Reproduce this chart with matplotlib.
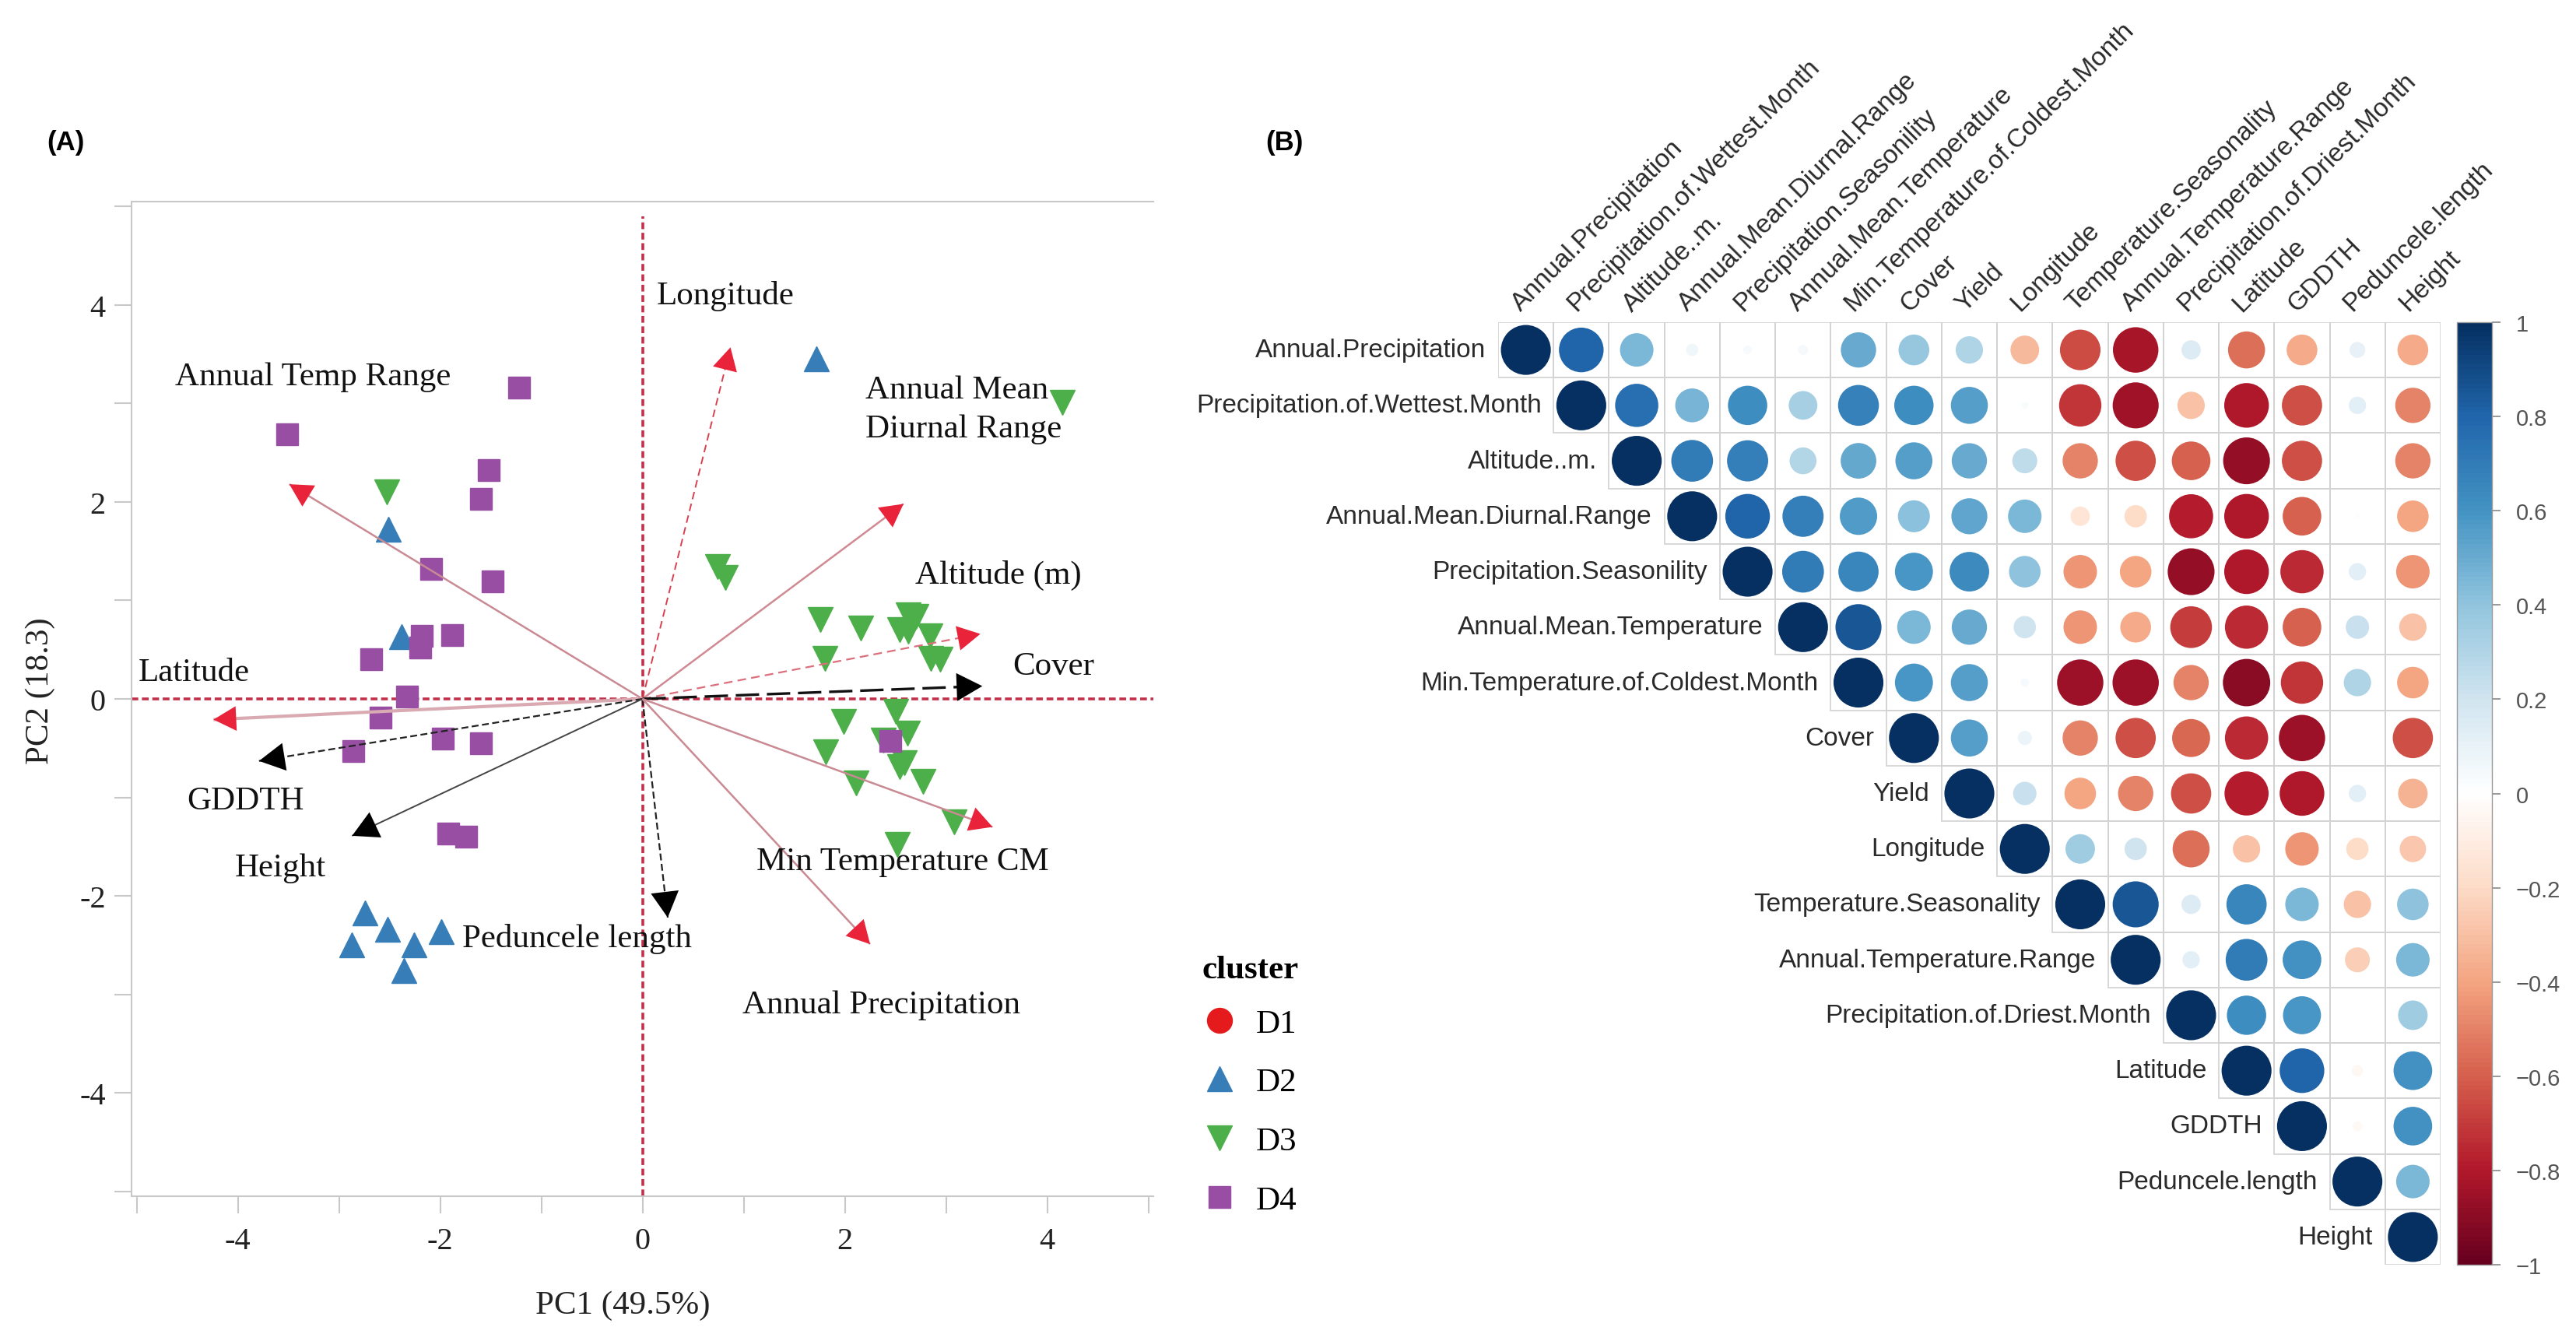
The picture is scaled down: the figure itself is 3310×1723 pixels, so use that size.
import numpy as np
import matplotlib.pyplot as plt
from matplotlib.patches import Circle, Rectangle
from matplotlib.lines import Line2D
from matplotlib.colors import LinearSegmentedColormap, Normalize
from matplotlib.cm import ScalarMappable

plt.rcParams['font.family'] = ['Liberation Serif', 'DejaVu Serif']
plt.rcParams['axes.unicode_minus'] = False

# ---------------- (A) PCA biplot data ----------------
d1_x, d1_y = [], []
d2_x = [1.72, -2.51, -2.38, -2.74, -2.52, -2.87, -2.26, -1.99, -2.36]
d2_y = [3.45, 1.72, 0.63, -2.17, -2.34, -2.50, -2.50, -2.36, -2.76]
d3_x = [4.15, -2.53, 0.74, 0.82, 1.76, 2.16, 2.63, 2.70, 2.54, 2.63, 2.84, 1.80, 2.85, 2.94,
        1.99, 2.50, 1.81, 2.62, 2.38, 2.59, 2.54, 2.11, 2.77, 3.08, 2.52]
d3_y = [3.01, 2.10, 1.34, 1.23, 0.81, 0.72, 0.85, 0.84, 0.70, 0.69, 0.64, 0.41, 0.41, 0.40,
        -0.23, -0.13, -0.54, -0.35, -0.42, -0.65, -0.69, -0.85, -0.84, -1.25, -1.48]
d4_x = [-3.51, -1.22, -1.52, -1.60, -2.09, -1.48, -1.88, -2.18, -2.20, -2.68, -2.33,
        -2.59, -1.97, -1.60, -2.86, -1.92, -1.74, 2.45]
d4_y = [2.69, 3.16, 2.32, 2.03, 1.32, 1.19, 0.65, 0.64, 0.52, 0.40, 0.02,
        -0.19, -0.40, -0.45, -0.53, -1.37, -1.40, -0.43]

# variable loadings (arrow tips)
var_names = ["Longitude", "Annual Temp Range", "Annual Mean\nDiurnal Range", "Altitude (m)",
             "Cover", "Latitude", "GDDTH", "Height", "Peduncele length",
             "Min Temperature CM", "Annual Precipitation"]
load_x = [0.87, -3.49, 2.58, 3.34, 3.36, -4.24, -3.79, -2.87, 0.25, 3.46, 2.25]
load_y = [3.57, 2.18, 1.98, 0.66, 0.13, -0.21, -0.63, -1.39, -2.22, -1.30, -2.49]
var_group = ["env", "env", "env", "env", "trait", "env", "trait", "trait", "trait", "env", "env"]

# ---------------- (B) correlation matrix (upper triangle) ----------------
corr_vars = ["Annual.Precipitation", "Precipitation.of.Wettest.Month", "Altitude..m.",
             "Annual.Mean.Diurnal.Range", "Precipitation.Seasonility", "Annual.Mean.Temperature",
             "Min.Temperature.of.Coldest.Month", "Cover", "Yield", "Longitude",
             "Temperature.Seasonality", "Annual.Temperature.Range", "Precipitation.of.Driest.Month",
             "Latitude", "GDDTH", "Peduncele.length", "Height"]
corr_rows = [
    [1, 0.80, 0.45, 0.06, 0.03, 0.04, 0.50, 0.38, 0.30, -0.33, -0.66, -0.83, 0.15, -0.55, -0.38, 0.10, -0.38],
    [1, 0.75, 0.46, 0.62, 0.33, 0.67, 0.62, 0.55, 0.02, -0.72, -0.85, -0.30, -0.80, -0.65, 0.12, -0.50],
    [1, 0.70, 0.68, 0.29, 0.51, 0.55, 0.50, 0.25, -0.50, -0.65, -0.60, -0.88, -0.65, 0.00, -0.50],
    [1, 0.80, 0.68, 0.56, 0.41, 0.52, 0.45, -0.15, -0.20, -0.78, -0.80, -0.60, 0.01, -0.40],
    [1, 0.70, 0.65, 0.58, 0.63, 0.40, -0.45, -0.40, -0.88, -0.80, -0.75, 0.12, -0.45],
    [1, 0.85, 0.45, 0.50, 0.20, -0.45, -0.38, -0.70, -0.75, -0.60, 0.22, -0.30],
    [1, 0.58, 0.55, 0.03, -0.86, -0.86, -0.50, -0.90, -0.72, 0.30, -0.40],
    [1, 0.55, 0.08, -0.50, -0.65, -0.58, -0.75, -0.86, 0.00, -0.65],
    [1, 0.22, -0.40, -0.50, -0.65, -0.78, -0.80, 0.12, -0.35],
    [1, 0.35, 0.20, -0.55, -0.30, -0.45, -0.20, -0.28],
    [1, 0.85, 0.15, 0.65, 0.45, -0.30, 0.40],
    [1, 0.12, 0.70, 0.60, -0.25, 0.45],
    [1, 0.62, 0.58, 0.00, 0.35],
    [1, 0.80, -0.05, 0.60],
    [1, -0.04, 0.60],
    [1, 0.45],
    [1],
]
cbar_ticks = [1, 0.8, 0.6, 0.4, 0.2, 0, -0.2, -0.4, -0.6, -0.8, -1]

W, H = 3310, 1724
fig = plt.figure(figsize=(W / 100, H / 100), dpi=100)


def box(l, t, r, b):
    return [l / W, 1 - b / H, (r - l) / W, (b - t) / H]


# ================= panel A =================
ax = fig.add_axes(box(169, 260, 1482, 1538))
ax.set_xlim(-5.05, 5.05)
ax.set_ylim(-5.05, 5.05)
ax.axhline(0, color='#c2304a', lw=2.6, ls=(0, (2.4, 1.3)), zorder=1)
ax.axvline(0, ymax=0.985, color='#c2304a', lw=2.6, ls=(0, (2.4, 1.3)), zorder=1)

ax.plot(d1_x, d1_y, 'o', color='#E41A1C', ms=23, ls='none', zorder=3)
ax.plot(d2_x, d2_y, '^', color='#377EB8', ms=23, ls='none', zorder=3)
ax.plot(d3_x, d3_y, 'v', color='#4DAF4A', ms=23, ls='none', zorder=3)
ax.plot(d4_x, d4_y, 's', color='#984EA3', ms=20, ls='none', zorder=3)

line_style = {
    "Longitude": dict(color='#d8404f', lw=1.4, ls=(0, (5, 3))),
    "Annual Temp Range": dict(color='#c98a93', lw=1.8, ls='-'),
    "Annual Mean\nDiurnal Range": dict(color='#cf8a94', lw=1.8, ls='-'),
    "Altitude (m)": dict(color='#dc6f7c', lw=1.6, ls=(0, (5, 3))),
    "Cover": dict(color='#111111', lw=2.4, ls=(0, (9, 3))),
    "Latitude": dict(color='#d9aab2', lw=3.0, ls='-'),
    "GDDTH": dict(color='#222222', lw=1.6, ls=(0, (4, 2))),
    "Height": dict(color='#444444', lw=1.4, ls='-'),
    "Peduncele length": dict(color='#222222', lw=1.6, ls=(0, (4, 2))),
    "Min Temperature CM": dict(color='#c98a93', lw=1.8, ls='-'),
    "Annual Precipitation": dict(color='#c98a93', lw=1.8, ls='-'),
}
label_pos = {
    "Longitude": (0.14, 4.10),
    "Annual Temp Range": (-4.62, 3.27),
    "Annual Mean\nDiurnal Range": (2.20, 2.94),
    "Altitude (m)": (2.70, 1.26),
    "Cover": (3.66, 0.33),
    "Latitude": (-4.98, 0.27),
    "GDDTH": (-4.50, -1.03),
    "Height": (-4.03, -1.71),
    "Peduncele length": (-1.78, -2.43),
    "Min Temperature CM": (1.13, -1.65),
    "Annual Precipitation": (0.99, -3.10),
}
for name, x, y, grp in zip(var_names, load_x, load_y, var_group):
    st = line_style[name]
    ax.plot([0, x], [0, y], color=st['color'], lw=st['lw'], ls=st['ls'], zorder=4,
            solid_capstyle='butt')
    head_col = '#E8233A' if grp == 'env' else '#000000'
    ms = 30 if grp == 'env' else 34
    ax.annotate('', xy=(x, y), xytext=(0, 0),
                arrowprops=dict(arrowstyle='-|>,head_length=0.7,head_width=0.38',
                                color=head_col, lw=0, shrinkA=0, shrinkB=0,
                                mutation_scale=ms), zorder=5)
    lx, ly = label_pos[name]
    ax.text(lx, ly, name, fontsize=31, ha='left', va='center', color='#111111',
            linespacing=1.4, zorder=6)

ticks = list(range(-5, 6))
ax.set_xticks(ticks)
ax.set_yticks(ticks)
ax.set_xticklabels([str(t) if t % 2 == 0 else '' for t in ticks])
ax.set_yticklabels([str(t) if t % 2 == 0 else '' for t in ticks])
ax.tick_params(axis='both', length=16, width=1.5, color='#c8c8c8', labelsize=29,
               labelcolor='#222222')
ax.tick_params(axis='x', pad=12)
ax.tick_params(axis='y', pad=8)
for side in ['left', 'top', 'bottom']:
    ax.spines[side].set_color('#c8c8c8')
    ax.spines[side].set_linewidth(1.5)
ax.spines['right'].set_visible(False)

fig.text(800 / W, 1 - 1678 / H, 'PC1 (49.5%)', fontsize=31, ha='center', va='center', color='#222222')
fig.text(52 / W, 1 - 888 / H, 'PC2 (18.3)', fontsize=31, ha='center', va='center',
         rotation=90, color='#222222')
fig.text(84 / W, 1 - 184 / H, '(A)', fontsize=25, fontweight='bold', ha='center', va='center',
         family='Liberation Sans')
fig.text(1650 / W, 1 - 184 / H, '(B)', fontsize=25, fontweight='bold', ha='center', va='center',
         family='Liberation Sans')

handles = [
    Line2D([], [], marker='o', color='#E41A1C', ls='none', ms=23),
    Line2D([], [], marker='^', color='#377EB8', ls='none', ms=23),
    Line2D([], [], marker='v', color='#4DAF4A', ls='none', ms=23),
    Line2D([], [], marker='s', color='#984EA3', ls='none', ms=20),
]
leg = fig.legend(handles, ['D1', 'D2', 'D3', 'D4'], title='cluster', loc='upper left',
                 bbox_to_anchor=(1545 / W, 1 - 1228 / H), frameon=False, fontsize=31,
                 title_fontproperties={'size': 31, 'weight': 'bold'}, alignment='left',
                 borderpad=0, borderaxespad=0, handlelength=1.0, handletextpad=0.6,
                 labelspacing=0.85)
leg._legend_box.sep = 22

# ================= panel B =================
cmap = LinearSegmentedColormap.from_list(
    'corrRdBu', ["#67001F", "#B2182B", "#D6604D", "#F4A582", "#FDDBC7", "#FFFFFF",
                 "#D1E5F0", "#92C5DE", "#4393C3", "#2166AC", "#053061"], N=200)
norm = Normalize(-1, 1)

n = len(corr_vars)
bx = fig.add_axes(box(1925, 415, 3136, 1626))
bx.set_xlim(0.5, n + 0.5)
bx.set_ylim(n + 0.5, 0.5)
bx.axis('off')
for i, row in enumerate(corr_rows):
    r_i = i + 1
    for k, val in enumerate(row):
        c_j = r_i + k
        bx.add_patch(Rectangle((c_j - 0.5, r_i - 0.5), 1, 1, fill=False,
                               edgecolor='#d2d2d2', lw=1.2, zorder=1))
        rad = 0.45 * np.sqrt(abs(val))
        if rad > 0:
            bx.add_patch(Circle((c_j, r_i), rad, facecolor=cmap(norm(val)),
                                edgecolor='none', zorder=2))
    bx.text(r_i - 0.72, r_i, corr_vars[i], ha='right', va='center', fontsize=24,
            family='Liberation Sans', color='#2a2a2a')
    bx.text(r_i - 0.02, 0.38, corr_vars[i], ha='left', va='bottom', rotation=45,
            rotation_mode='anchor', fontsize=24, family='Liberation Sans', color='#2a2a2a')

cax = fig.add_axes(box(3157, 415, 3202, 1626))
cb = fig.colorbar(ScalarMappable(norm=norm, cmap=cmap), cax=cax, ticks=cbar_ticks)
cb.ax.set_yticklabels([('%g' % t).replace('-', '\u2212') for t in cbar_ticks])
cb.ax.tick_params(length=8, width=1.2, color='#888888', labelsize=21, labelcolor='#555555',
                  pad=14)
for lab in cb.ax.get_yticklabels():
    lab.set_family('Liberation Sans')
cb.outline.set_edgecolor('#999999')
cb.outline.set_linewidth(1.0)

fig.savefig('out.png', dpi=100, facecolor='white')
